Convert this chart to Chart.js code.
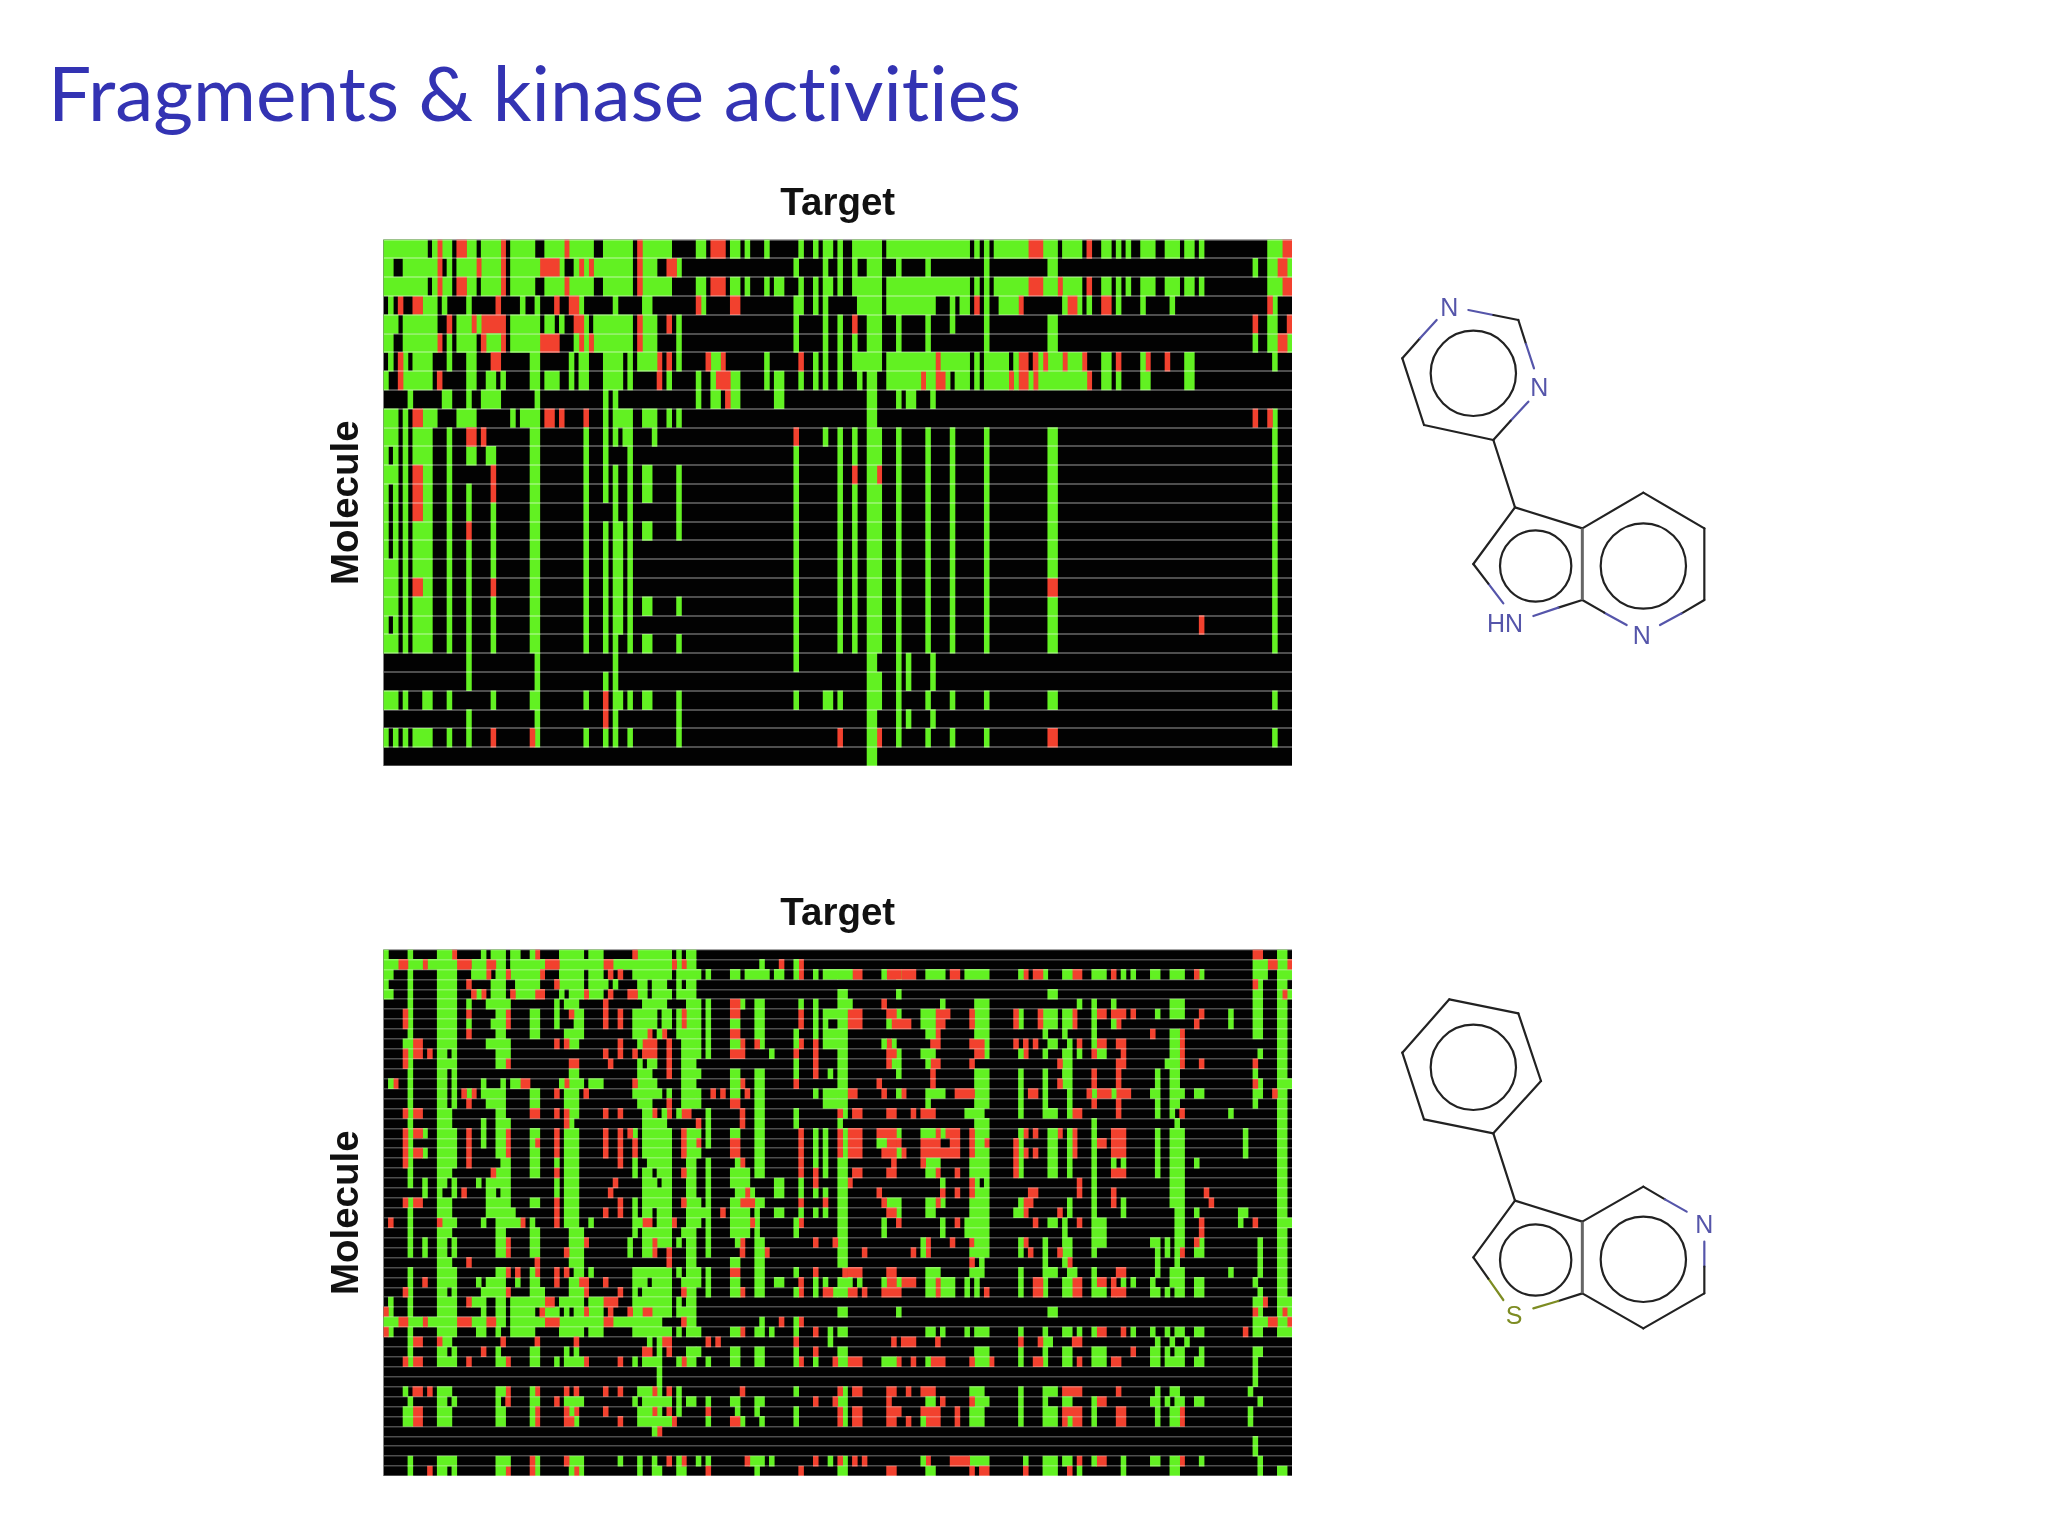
<!DOCTYPE html>
<html>
<head>
<meta charset="utf-8">
<title>Fragments & kinase activities</title>
<script src="https://cdn.jsdelivr.net/npm/chart.js@4/dist/chart.umd.min.js"></script>
<style>
    html, body { margin: 0; background: #fff; }
    body { width: 2048px; height: 1536px; position: relative; overflow: hidden; }
    h1 { position: absolute; left: 48px; top: 45px; margin: 0; font: 400 76.5px Lato, sans-serif; font-variant-ligatures: none; color: #3333b3; white-space: nowrap; }
    canvas { position: absolute; filter: blur(0.5px); }
    #topChart { left: 300px; top: 170px; }
    #bottomChart { left: 300px; top: 879.5px; }
    svg { position: absolute; left: 1370px; top: 270px; filter: blur(0.3px); }
</style>
</head>
<body>
<h1>Fragments &amp; kinase activities</h1>
<canvas id="topChart" width="1010" height="610"></canvas>
<canvas id="bottomChart" width="1010" height="610"></canvas>
<svg id="molecules" width="378" height="1090"></svg>
<script>
// one string per molecule, g = green / r = red run of target columns, everything else stays black
const columnCount = 186;

const topRows = [
    "g0-8 g10 r11 g12-13 r15-16 g17-18 g20-23 r24 g26-30 g33-36 r37 g38-42 g45-50 r52 g53-58 g64-65 r67-69 g71-72 g74 g78 g85 g88 g90-91 g93 g96-101 g103-119 g121 g123 g125-131 r132-134 g135-137 g139-142 r144 g147-148 g150 g152 g155-157 g160-162 g164-165 g167 g181-183 r184-185",
    "g0-1 g4-10 r11 g13 g15-18 r19 g20-23 r24 g26-31 r32-35 g36 g39 r40 g41 r42 g43-50 r52 g53-55 r58-59 g60 g84 g90 g93 g96 g99-101 g105 g111 g123 g136-137 g178 g181-182 r183-184 g185",
    "g0-8 g10 r11 g12-13 r15-16 g17-18 g20-23 r24 g26-30 g33-36 r37 g38-42 g45-50 r52 g53-58 g64-65 r67-69 g71-72 g74 g78 g80-81 g85 g88 g90-91 g93 g96-101 g103-119 g121 g123 g125-131 r132-134 g135-137 r138 g139-142 r144 g147-148 g150 g152 g155-157 g160-162 g164-165 g167 g181-183 r184-185",
    "g1 r3 r6-7 g8-10 g12 g17 r23 g28 g31 r35 r38-39 g40 g47 g53-54 r64 g65 r71-72 g84-85 g88 g90 g97-101 g103-112 g116 g118-119 r121 g123 g126-129 r130 g139 r140-141 g142 g144 r147-148 g150 g155 g161 r181 g182",
    "g0-2 g4-10 r13 g15-17 r18 g19 r20-24 g26-31 g33-34 g36 r39-40 g41 g43-50 r52 g53-55 r58 g60 g84 g90 g93 r96 g99-101 g105 g111 g116 g123 g136-137 r178 g181-182 r185",
    "g0-1 g4-10 r11 g13 g15-18 r20 g21-23 r24 g26-31 r32-35 g39 r40 g41 r42 g43-50 r52 g53-55 g60 g84 g90 g93 g96 g99-101 g105 g111 g123 g136-137 g178 g181-182 r183-184 g185",
    "g1 r3 g4 g6-9 g13 g17-18 r22-23 g30-31 g38 g40-41 g45-48 g50 g52-55 r56 r58 g60 r66 g67-68 r69 g78 r85 g88 g90 g93 g96-101 g103-112 r113 g114-119 g121 g123-127 g129 r130-131 r133 g134 r135 g136-138 r139 g140-142 r143 g147-148 r150 g155 r156 r160 g164-165 g182",
    "g0 r3 g4-9 r11 g17-18 g21-22 g24 g30-31 g33-35 g38 g40-41 g45-48 g50 r56 g58 g64 g67 r68-70 g71-72 g78 g80-81 g85 g88 g90 g93 g97 g99-100 g103-109 r110 g111-112 r113-114 g115 g117-119 g121 g123-127 r128 g129 r130-131 g132 r133 g134-143 r144 g147-148 g150 g155-156 g164-165",
    "g5 g12-13 g17 g20-23 g31 g45 g47 g64 g67-68 r70 g71-72 g80-81 g99-100 g105 g107-108 g112",
    "g0-2 g4 r6-7 g8-10 g15-18 g26 g28-31 r33-34 r36 r41 g45 g47-50 g53-55 g58 g60 g99-100 r178 r181 g182",
    "g0-2 g4 g6-9 g13 r17-18 r20 g30-31 g41 g45 g47 g49-50 g55 r84 g90 g93 g96 g99-101 g105 g111 g116 g123 g136-137 g182",
    "g0 g2 g4 g6-9 g13 g17-18 g21-22 g30-31 g41 g45 g50 g84 g93 g96 g99-101 g105 g111 g116 g123 g136-137 g182",
    "g0-2 g4 r6-7 g8-9 g13 r22 g30-31 g41 g45 g47 g50 g53-54 g60 g84 g93 r96 g99-100 r101 g105 g111 g116 g123 g136-137 g182",
    "g0 g2 g4 r6-7 g8-9 g13 g17 r22 g30-31 g41 g45 g47 g50 g53-54 g60 g84 g93 g96 g99-101 g105 g111 g116 g123 g136-137 g182",
    "g0 g2 g4 r6-7 g8-9 g13 g17 g22 g30-31 g41 g47 g50 g60 g84 g93 g96 g99-101 g105 g111 g116 g123 g136-137 g182",
    "g0 g2 g4 g6-9 g13 r17 g22 g30-31 g41 g45 g47-48 g50 g53-54 g60 g84 g93 g96 g99-101 g105 g111 g116 g123 g136-137 g182",
    "g0 g2 g4 g6-9 g13 g17 g22 g30-31 g41 g45 g47-48 g50 g84 g93 g96 g99-101 g105 g111 g116 g123 g136-137 g182",
    "g0-2 g4 g6-9 g13 g17 g22 g30-31 g41 g45 g47-48 g50 g84 g93 g96 g99-101 g105 g111 g116 g123 g136-137 g182",
    "g0-2 g4 r6-7 g8-9 g13 g17 r22 g30-31 g41 g45 g47-48 g50 g84 g93 g96 g99-101 g105 g111 g116 g123 r136-137 g182",
    "g0-2 g4 g6-9 g13 g17 g22 g30-31 g41 g45 g47-48 g50 g53-54 g60 g84 g93 g96 g99-101 g105 g111 g116 g123 g136-137 g182",
    "g0 g2 g4 g6-9 g13 g17 g22 g30-31 g41 g45 g47-48 g50 g84 g93 g96 g99-101 g105 g111 g116 g123 g136-137 r167 g182",
    "g0-2 g4 g6-9 g13 g17 g22 g30-31 g41 g45 g47 g50 g53-54 g60 g84 g93 g96 g99-101 g105 g111 g116 g123 g136-137 g182",
    "g17 g31 g47 g84 g99-100 g105 g107 g112",
    "g17 g31 g45 g47 g99-101 g105 g107 g112",
    "g0-2 g4 g8-9 g13 g22 g30-31 g41 r45 g47-48 g50 g53-54 g60 g84 g90-91 g93 g99-101 g105 g111 g116 g123 g136-137 g182",
    "g17 g31 r45 g47 g60 g99-100 g105 g107 g112",
    "g0 g2 g4 g6-9 g13 g17 r22 r30 g31 g41 g45 g47 g50 g60 r93 g99-100 r101 g105 g111 g116 g123 r136-137 g182",
    "g99-100"
];

const bottomRows = [
    "g0 g5 g11-13 r14 g20 g22-24 g26-27 g30 r31 g36-40 g42-44 r51 g52-58 g60 g62-63 r178-179 g183-184",
    "g0-2 r3-4 g5-7 r8 g9-14 r15-17 g18-20 r21-22 g23-24 g26-32 r33-35 g36-44 r45-46 g47-58 r59 g60 r61 g62-63 g77 r81 g84 r85 g178-180 r181-182 g183-184 r185",
    "g0-1 g5 g11-14 g18-20 r21 g23-24 r25 g26-31 r32 g36-40 g42-44 r46 r48 g51-58 g60-63 g64 g66 g71-72 g74-78 g80-81 g84 r85 g88 g90-92 g93-95 r96-97 g102 r103-105 g105 r106-108 g111-114 r116-117 g119-123 g130 r131 r133-134 g135 g139-140 r141-142 g145-147 r149 g151 g153 g157-158 g161-163 r166 g167 g178-180 g183-185",
    "g0 g5 g11-14 r17 g22-24 g27-31 r35 g36-40 g42-45 g47 g52-53 g55-57 g60 g62-63 r178 g179 g183-184",
    "g0-1 g5 g11-14 r18 g19 r20 g22-24 r26 g27-30 r31-32 g36 g38-40 r41 g42-44 r46 r50-51 g52-53 g55-58 g60-63 g93-94 g105 g136-137 g178-179 g183 r184 g185",
    "g5 g11-14 g17 g21-25 g35 g37-39 r45 g53-57 g62-63 g64 g66 r71-72 g73 g76-77 g85 g88 g93-95 r102 g114 g121-123 g142 g145 g149 g161-163 g178-179 g183-184",
    "r4 g5 g11-14 r17 g23-24 r25 g30-31 g35 r38 g39-40 r45 r48 g51-55 g57-58 g60 r61 g62-63 g64 g66 r71-72 g76-77 r85 g88 g90-92 g93-94 r95-97 r103-104 g105 g110-112 r113-115 r120 g121-123 r129 g130 r134 g135-137 g139-140 r141 g145 r146-147 r149 r150-151 r153 g158 g161-163 r167 g173 g178-179 g183-184",
    "r4 g5 g11-14 g17 g22-24 r25 g30-31 g35 g39-40 r45 r48 g51-55 g57-58 g60 r61 g62-63 g64 g66 g71-72 g76-77 r85 g88 g90 g93-94 r95-97 g103 r104-107 g110-112 r113-114 r120 g121-123 r129 g130 r134 g135-137 g139-140 r141 g145 g149 r150 r166 g173 g178-179 g183-184",
    "g5 g11-14 r17 g23-24 g30-31 g37-40 g51-53 r54 g56 r57 g60-63 g64 g66 r71-72 g76-77 g84 g88 g90-92 g93-94 g111-112 r113 g121-123 g135 g139 g145 r157 g161-162 r163 g178-179 g183-184",
    "g4-5 r6-7 g11-14 g21-25 r35 r37 g38-39 r48 g52 r53-55 r58 g61-63 g64 g66 g71-72 r73 r76 g77 g84 r85 r88 g90-92 g93-94 g102 r103 g104 r112-113 r120-122 g123 r129 r131 r133 g136-137 g140 r142 g145 r146-147 r150-151 g161-162 r163 g183-184",
    "r4 g5 r6-7 r9 g11-12 g14 g23-25 r45 r48 r51 r53-55 r58 g61-63 g64 g66 r71-73 g79 r84 r88 g93-94 r103-104 g105 g110-112 r121-122 g123 g130 r131 g135 g139-140 g142 r145 g146-147 r151 g161-162 r163 g179 g183-184",
    "r4 g5 g11-14 g23-24 r25 r38-39 r46 g52 g54-55 r58 g61-63 g84 r88 g93-94 r103 g104 g105 g111 r112-113 r120 r138 g139-140 r150-151 g160-162 r163 r167 r178 g183-184",
    "g5 g11-12 g14 g38-39 g52-54 r58 g61-63 g64 g71-72 g76-77 g84 r88 g91 g93-94 g105 r112 g121-123 g130 g135 g139-140 r145 r150 g158 g161-162 g178 g183-184",
    "g1 r2 g5 g11-12 g14 g20 g24 g26-27 r28-29 g36 r37 g38-40 g42-44 r51 g52-55 g61-63 g71-72 r73 g76-77 r84 g93-94 r101 r112 g121-123 g130 g135 r138 g139-140 r145 r150 g158 g161-162 r178 g179 g183-185",
    "g5 g11-12 g14 r16 g17 r18 g20-24 g30-31 r35 g37-39 r41 g51-56 g58 g61-63 g64 r67 r69 g71-72 r74 g76-77 g88 g90-92 g93-94 r95-96 r102 g105 r106 g111-114 r117-120 g121-123 g130 r132-133 g135 g140 r144 g145 r146-148 g149 r150-152 g157-158 g161-163 g166-167 g178-179 r182 g183-184",
    "g5 g11-12 g14 r17 g21-24 g30-31 g37-39 g52-54 r58 g61-63 g64 r71-72 g76-77 g90-92 g93-94 g111 g121-123 g130 g135 g140 r145 r150 g158 g161-162 g178 g183-184",
    "r4 g5 r6-7 g11-13 g23-24 r30-31 r35 r37 g38-39 r45 r48 g53-54 r55 g57 r58 g60 r61-62 g66 r73 g76-77 g84 r93 g94 r96-97 r103-104 r108 r110-112 g119-122 g130 g135-137 g140 r141-142 r150 g158 g161 r163 g173 g183-184",
    "g5 g11-13 g20 g23-25 r37 g38 g53-57 r64 g66 r73 g76-77 g84 g93 g121-123 g145 g162 g183-184",
    "r4 g5 r6-7 g8 g11-14 r17 g20 g23-24 r25 g30-31 r35 g37-39 r45 r48 r50 g51 g53-58 r61 g62-63 g64 g66 g71-72 g76-77 r85 g88 g90 r93 g94 r95-97 r101-104 g105 g110-112 r113 g114 r115-117 r120 g121-123 g130 r131 r133 g136-137 r138 g140 r141 g145 r149 r150-151 g158 g161-163 g176 g183-184",
    "r4 g5 g11-14 r17 g20 g23-24 r25 g30 r31 r35 g37-39 r45 r48 r51 g53-58 r61 g62-63 r64 g66 r71-72 g76-77 r85 g88 g90 r93 g94 r95-97 g101-102 r103-104 r105 r110-113 r116-117 r120 g121-122 r123 r129 g130 g136-137 g140 r141 g145 r146-147 r149 r150-151 g158 g161-163 g176 g183-184",
    "r4 g5 r6-7 g8 g11-14 r17 g23-24 r25 g30-31 r35 g37-39 r45 r48 r51 g53-58 r61 g62-63 g64 r71-72 g76-77 r85 g88 g90 r93 g94 r95-97 r102-104 g105 r106 r110-117 r120 g121-123 r129 g130 r131 r133 g136-137 g140 r141 g145 r149 r150-151 g158 g161-163 g176 g183-184",
    "r4 g5 g11-14 r17 g24-25 g30-31 g35 g37-39 r48 g51 g54-58 g62-63 g66 g72 r73 g76-77 r85 g88 g90 g93-94 r104 r110 g111-113 g120-123 r129 g130 g136-137 g140 g145 g149 g151 g158 g161-163 g166 g183-184",
    "g5 g11-13 r22 g23-25 g30-31 r35 g37-39 g51 g53-54 g56-58 r61 g62-63 g66 g71-74 g76-77 r85 r88 g90 g93-94 r96-97 r103-104 g111-112 r113 r117 g120-123 r129 g130 g136-137 g140 g145 r149 r150-151 g158 g161-163 g183-184",
    "g5 g8 g11-12 g14 g19 g21-25 g35 g37-39 r47 g53-55 g57-58 g62-63 g66 g71-74 g80-81 g85 r88 g93-94 r95 g114 r120 g121 g123 r142 g145 g161-163 g183-184",
    "g8 g11 g14 r16 g21-22 g24-25 g35 g37-39 r46 g53-58 g62-63 g66 g72-73 r74 g75 g80-81 g85 g88 g90 g93-94 r101 r114 r117 r120 g121-123 r132-133 r142 g145 r149 g161-163 r168 g183-184",
    "r4 g5 r6-7 g11-13 g21-25 g30-31 r35 g37-39 r48 g51 g53-58 r61 g62-64 g66 g71-72 r73-75 g76-77 r85 r90 g93-94 r102 g103-105 g111-112 r113 g114 g120-123 g130 r131-132 g140 g145 r149 g151 g161-163 r169 g183-184",
    "g5 g11-13 g21-26 r35 g37-39 r45 r48 g51 g53-54 g56-58 g62-66 r69 g71-74 g76 g80-81 g85 g88 g90 g93-94 r103-104 g105 g111-112 g120-123 g129-130 r131 r138 g140 g145 g151 g162-163 g166 g175-176 g183-184",
    "r1 g5 r11 g12-14 g20 g23-27 r28 g30 r35 g37-39 g42 g51-52 r53-54 g56-58 r59 g62-63 g64 g66 g71-74 r75 g76 g84 r85 g93-94 g102 r105 g114 r117 g119-123 r133 g136-137 g139 r142 g145-147 g162-163 r167 g175 r178 g183-185",
    "g5 g11-13 g23-24 g30-31 g38-40 g51 g53-58 g61-63 g66 g71-74 g76 g84 g93-94 g102 g114 g119-123 g139 g145-147 g162-163 r167 g183-184",
    "g5 g8 g11-12 g14 g23-24 r25 g30-31 g38-40 r41 g50 g53-54 r55 g56-58 g60 g62-63 g66 g72 r73 g76-77 r88 r92 g93-94 g110 r111 r116 g121-123 r120 g130 r131 g135 g139-140 g145-147 g157-158 g160 g162-163 r166 g167 g179 g183-184",
    "g5 g8 g11-12 g14 g23-24 r25 g30-31 r37 g38-40 g50 g53-54 r55 r58 g62-63 g66 r73 g76-77 r78 g93-94 r98 r108 g110 r111 g120-123 g130 r132 g135 r138 g139-140 g145 g158 g160 g162 r163 g166-167 g179 g183-184",
    "g11-13 r17 r31 g38-40 r58 g62-63 g71-72 g76-77 g93-94 r120 g122 g135 g139 r140 g158 g162 g179 g183-184",
    "g5 g11-14 g23-24 r25 r27 g30 r31 r35 r37 g39-40 g42 g51-54 g55-58 g60 g62-63 g64 g66 r71-72 g76-77 g84 r88 r94 r95-97 r103-104 g111-113 g120-122 g130 g135-137 g140-141 g145 r150-151 g158 g161-163 g173 g179 g183-184",
    "g5 r8 g11-14 g19 g21-24 g27 g30-31 r35 g38-39 r40-41 r45 g51-53 g55-58 g61-63 g64 g66 g71-72 g76-77 g80-81 r85 g88 g90 g93-95 g97 g102 r103-104 g105 r106-108 g111-112 r113 g114-116 g119 g121 g130 r133-134 g135 g139-140 r141-142 g145 r146-147 r149 g151 g153 g157 g161-163 g166-167 g178 g183-184",
    "r4 g5 g11-12 g14 g20-24 r25 g30-32 g38-40 r41 r48 g51 g53-58 r61 g62-63 g66 g71-72 r73 g76-77 g84 r85 g88 r90-91 g92 g93-94 r95-96 r98 r102-105 g111-112 r113 g114-116 g119 g121 r123 g130 r133-134 g135 g139-140 r141-142 g145-147 r149 r150-151 g157-158 g160 g162-163 g166-167 g179 g183-184",
    "g1 g5 g11-14 r17 g18-20 g23-24 g26-32 r33-34 g36-40 g42-44 r45-47 g51-58 g60 g62-63 g178-179 r180 g183-185",
    "r0 g1 g5 g11-14 g20 g23-24 g26-30 r32 g33-35 g37 g39-40 r41 g42-44 r46 r50 g51-52 r53-54 g55-58 g60-63 g93-94 g105 g136-137 r178 g179 g183 r184 g185",
    "g0-2 r3-4 g5-7 r8 g9-14 r15-17 g18-20 r21-22 g23-24 g26-32 r33-35 g36-44 r45-46 g47-56 r61 g62-63 g77 r81 g84 r85 g178-180 r181-182 g183-184 r185",
    "r0 g1 g5 g11-14 g19-20 g23 g26-30 g36-40 g42-44 g51-58 g60 g62-63 g64 g71-72 r73 g76-77 g79 g84 r88 g91 g93-94 g111-112 g114 g119 g121-123 g130 g135 g139-140 g142 g145 r146-147 r151 g153 g157 g160 g162-163 g166-167 r176 g178-179 g183-185",
    "g5 r6-7 r11 g12-13 r24 r31 r39 g54 g56 r57-58 r66 r68 r84 g91 r104 r106-108 r113 r130 r134 g135-136 r141-142 g158 g161 g164",
    "g5 g11-12 g14 r20 g23 g30-31 g37 g39 r53-54 g56 r58 g62-63 g64 g71-72 g76-77 g84 r88 g93-94 g121-123 g130 g135 g139-140 g145-147 r153 g157-158 g160 g162-163 g167 g178-179",
    "r4 g5 r6-7 g11-14 r17 g23-24 r25 g30-31 g35 g37-40 r41 r48 g51 g53-56 g60 r61 g62-63 g66 g71-72 g76-77 g84 r85 g88 r92 g93-94 r95-97 g102-104 r105 r108 g111 r112-114 r120 g121-123 r124 g130 r133-134 g135 g139-140 r142 g145-147 r149 r150 g157-158 g160-163 g166-167 g178",
    "g56 g178",
    "g56 g178",
    "g4 r6-7 r9 g11-13 g23-24 r25 g30 r31 r37 r39 r45 r48 g52-54 r55 g56 r58 g60 r73 g84 r93 g94 r96-97 r103-104 r107 r110-112 g120-122 g130 g135-137 r139-142 r150 g158 g161-162 g177",
    "g5 g11-12 g14 g23 r25 g30-31 r35 g37-40 g51 g53-54 g55-58 g60 g62-63 g66 g71-72 g76-77 r88 r92 g93-94 r103 g111-112 r114 r120 g121-123 g130 g135 g139-140 g145 r146-147 g157-158 g160 g162-163 g166-167 g179",
    "g4-5 r6-7 g11-13 g23-24 g30 r31 r37 g38 r39 r45 g52-54 r55 g56 r58 g60 r66 g72 g76 g84 r93 g94 r96-97 r103-105 r110-113 r117 g120-122 g130 g135-137 r139-142 g145 r150-151 g158 g161-162 r163 g177",
    "g4-5 r6-7 g11-13 g23-24 g30 r31 r37-38 g39 r48 g52-58 r59 g66 r71-72 g73 g77 g84 r93 g94 r96-97 r103-104 r107 g110 r111-113 r117 g120-122 g130 g135-137 r139 g140 r141-142 g145 r150-151 g158 g161-162 r163 g177",
    "g55 r56",
    "g178",
    "g178",
    "g5 g11-14 g23-25 r30 g31 r37 g38-40 g48 g52 g55 r58 g60 r61 g64 g66 r74 g75-77 g79 r88 g91 r93 g94 r96 r98 g110 r111 r116-119 g120-123 g131 g135-137 g139-140 r142 g145 r146-147 g151 g157-158 g161-162 r163 g167 g179",
    "g5 r9 g11-12 g14 g23-24 r25 r30 g31 g38 r39 g40 g52 g55-56 g60-61 r66 g76 r85 g93-94 r103-104 g111-112 r120 r122-123 r131 g135-137 r140 g142 g151 g161-162 g179 g183-184"
];

const cellColors = { g: '#62f122', r: '#f2412e' };

// --- turn "g12-15" tokens into [from, to, colour] runs ---
function parseRow(row) {
    return row.split(' ').map(token => {
        const ends = token.slice(1).split('-').map(Number);
        const last = ends.length > 1 ? ends[1] : ends[0];
        return [ends[0], last + 1, cellColors[token[0]]];
    });
}

// --- every n-th run of every row goes in dataset n, so each row can hold many floating bars ---
function buildDatasets(rows) {
    const parsed = rows.map(parseRow);
    const longest = Math.max(...parsed.map(runs => runs.length));
    const datasets = [];
    for (let n = 0; n < longest; n++) {
        datasets.push({
            data: parsed.map(runs => runs[n] ? [runs[n][0], runs[n][1]] : null),
            backgroundColor: parsed.map(runs => runs[n] ? runs[n][2] : 'transparent'),
            borderWidth: 0,
            grouped: false,
            barPercentage: 1,
            categoryPercentage: 1
        });
    }
    return datasets;
}

const blackCells = {
    id: 'blackCells',
    beforeDatasetsDraw(chart) {
        const a = chart.chartArea;
        chart.ctx.fillStyle = '#020202';
        chart.ctx.fillRect(a.left, a.top, a.width, a.height);
    }
};

function drawHeatmap(canvasId, rows, separatorWidth) {
    const axisFont = { family: '"Liberation Sans"', size: 38.5, weight: 'bold' };
    return new Chart(document.getElementById(canvasId), {
        type: 'bar',
        data: { labels: rows.map((r, i) => 'M' + (i + 1)), datasets: buildDatasets(rows) },
        plugins: [blackCells],
        options: {
            indexAxis: 'y',
            responsive: false,
            animation: false,
            layout: { padding: { right: 18, bottom: 14 } },
            plugins: { legend: { display: false }, tooltip: { enabled: false } },
            scales: {
                x: {
                    position: 'top',
                    min: 0,
                    max: columnCount,
                    afterFit(scale) { scale.height = 69.5; },
                    ticks: { display: false },
                    grid: { display: false },
                    border: { display: false },
                    title: { display: true, text: 'Target', color: '#111', font: axisFont, padding: { top: 11, bottom: 0 } }
                },
                y: {
                    afterFit(scale) { scale.width = 83.5; },
                    ticks: { display: false },
                    border: { display: false },
                    grid: { offset: true, z: 1, drawTicks: false, color: 'rgba(255,255,255,0.3)', lineWidth: separatorWidth },
                    title: { display: true, text: 'Molecule', color: '#111', font: axisFont, padding: { top: 24, bottom: 0 } }
                }
            }
        }
    });
}

drawHeatmap('topChart', topRows, 2);
drawHeatmap('bottomChart', bottomRows, 1.4);

// --- the two fragment structures beside the heatmaps, in 3x zoom units ---
const bondDark = '#222222', nitrogen = '#5555aa', sulphur = '#7d8c22';
const moleculeBonds = [
    [97,265,150,205,bondDark],[150,205,200,150,nitrogen],[295,120,370,135,nitrogen],[370,135,445,150,bondDark],[445,150,468,222,bondDark],[468,222,492,295,nitrogen],
    [475,395,422,452,nitrogen],[422,452,370,510,bondDark],[370,510,162,465,bondDark],[162,465,97,265,bondDark],[370,510,435,712,bondDark],
    [435,712,637,775,bondDark],[637,990,565,1013,bondDark],[565,1013,490,1038,nitrogen],[400,1000,355,941,nitrogen],[355,941,310,882,bondDark],[310,882,435,712,bondDark],
    [637,775,820,668,bondDark],[820,668,1003,775,bondDark],[1003,775,1003,990,bondDark],[1003,990,935,1030,bondDark],[935,1030,870,1065,nitrogen],[770,1065,703,1028,nitrogen],[703,1028,637,990,bondDark],
    [97,2348,238,2188,bondDark],[238,2188,445,2230,bondDark],[445,2230,513,2433,bondDark],[513,2433,370,2590,bondDark],[370,2590,162,2548,bondDark],[162,2548,97,2348,bondDark],[370,2590,435,2792,bondDark],
    [435,2792,637,2855,bondDark],[637,3070,565,3093,bondDark],[565,3093,490,3115,sulphur],[400,3090,355,3026,sulphur],[355,3026,310,2962,bondDark],[310,2962,435,2792,bondDark],
    [637,2855,820,2750,bondDark],[820,2750,885,2788,bondDark],[885,2788,950,2825,nitrogen],[1003,2915,1003,2990,nitrogen],[1003,2990,1003,3070,bondDark],[1003,3070,820,3175,bondDark],[820,3175,637,3070,bondDark]
];
const moleculeRings = [[310,310,128],[497,888,107],[820,888,128],[310,2392,128],[497,2970,107],[820,2968,128]];
const fusedBonds = [[637,775,637,990],[637,2855,637,3070]];
const moleculeLabels = [['N',238,112,nitrogen],['N',508,352,nitrogen],['HN',405,1060,nitrogen],['N',815,1095,nitrogen],['S',432,3135,sulphur],['N',1003,2862,nitrogen]];

const svg = document.getElementById('molecules');
let svgMarkup = '';
moleculeBonds.forEach(b => {
    svgMarkup += `<line x1="${b[0]/3}" y1="${b[1]/3}" x2="${b[2]/3}" y2="${b[3]/3}" stroke="${b[4]}" stroke-width="2.2" stroke-linecap="round"/>`;
});
fusedBonds.forEach(b => {
    svgMarkup += `<line x1="${b[0]/3}" y1="${b[1]/3}" x2="${b[2]/3}" y2="${b[3]/3}" stroke="#666" stroke-width="3"/>`;
});
moleculeRings.forEach(c => {
    svgMarkup += `<circle cx="${c[0]/3}" cy="${c[1]/3}" r="${c[2]/3}" fill="none" stroke="${bondDark}" stroke-width="2.2"/>`;
});
moleculeLabels.forEach(l => {
    svgMarkup += `<text x="${l[1]/3}" y="${l[2]/3}" fill="${l[3]}" font-family="Liberation Sans" font-size="25" text-anchor="middle" dominant-baseline="central">${l[0]}</text>`;
});
svg.innerHTML = svgMarkup;
</script>
</body>
</html>
